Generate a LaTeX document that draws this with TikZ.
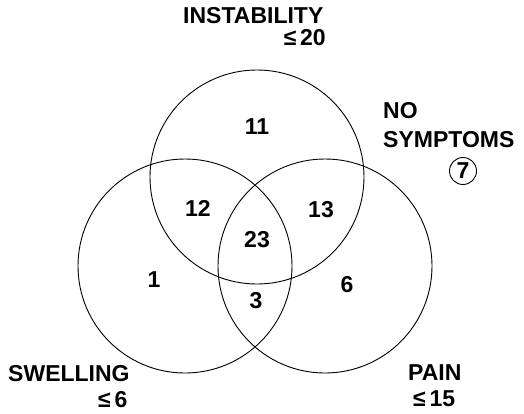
\documentclass[tikz,border=0pt]{standalone}
\usepackage{fontspec}
\setmainfont{Liberation Sans}
\usepackage{tikz}
\usetikzlibrary{positioning}

\begin{document}
\begin{tikzpicture}[
    x=1pt, y=-1pt,
    font=\fontsize{23}{27}\selectfont\bfseries,
    ring/.style={draw=black, line width=0.9pt},
    count/.style={inner sep=0pt},
    tag/.style={inner sep=0pt, anchor=base west},
    tagr/.style={inner sep=0pt, anchor=base east}
  ]
    \useasboundingbox (0,0) rectangle (524,413);
    % set centres
    \coordinate (instab) at (257,177);
    \coordinate (swell)  at (185,266);
    \coordinate (pain)   at (325,266);
    \draw[ring] (instab) circle[radius=107pt];
    \draw[ring] (swell)  circle[radius=107pt];
    \draw[ring] (pain)   circle[radius=107pt];
    % counts
    \node[count] (n11) at (257,127) {11};
    \node[count] (n12) at (198,208) {12};
    \node[count] (n13) at (321,210) {13};
    \node[count] (n23) at (257,240) {23};
    \node[count] (n1)  at (154,280) {1};
    \node[count] (n3)  at (256,301) {3};
    \node[count] (n6)  at (347,285) {6};
    % set names
    \node[tag]  (tinst)  at (183,23)  {INSTABILITY};
    \node[tagr] (tinstv) at (326,45)  {≤\,20};
    \node[tag]  (tno)    at (383,118) {NO};
    \node[tag]  (tsym)   at (383,147) {SYMPTOMS};
    \node[circle, draw, line width=0.9pt, minimum size=27pt, inner sep=0pt] (tnone) at (463,171) {7};
    \node[tag]  (tswell)  at (8,381)   {SWELLING};
    \node[tag]  (tswellv) at (98,407)  {≤\,6};
    \node[tag]  (tpain)   at (408,380) {PAIN};
    \node[tag]  (tpainv)  at (413,406) {≤\,15};
  \end{tikzpicture}
\end{document}
